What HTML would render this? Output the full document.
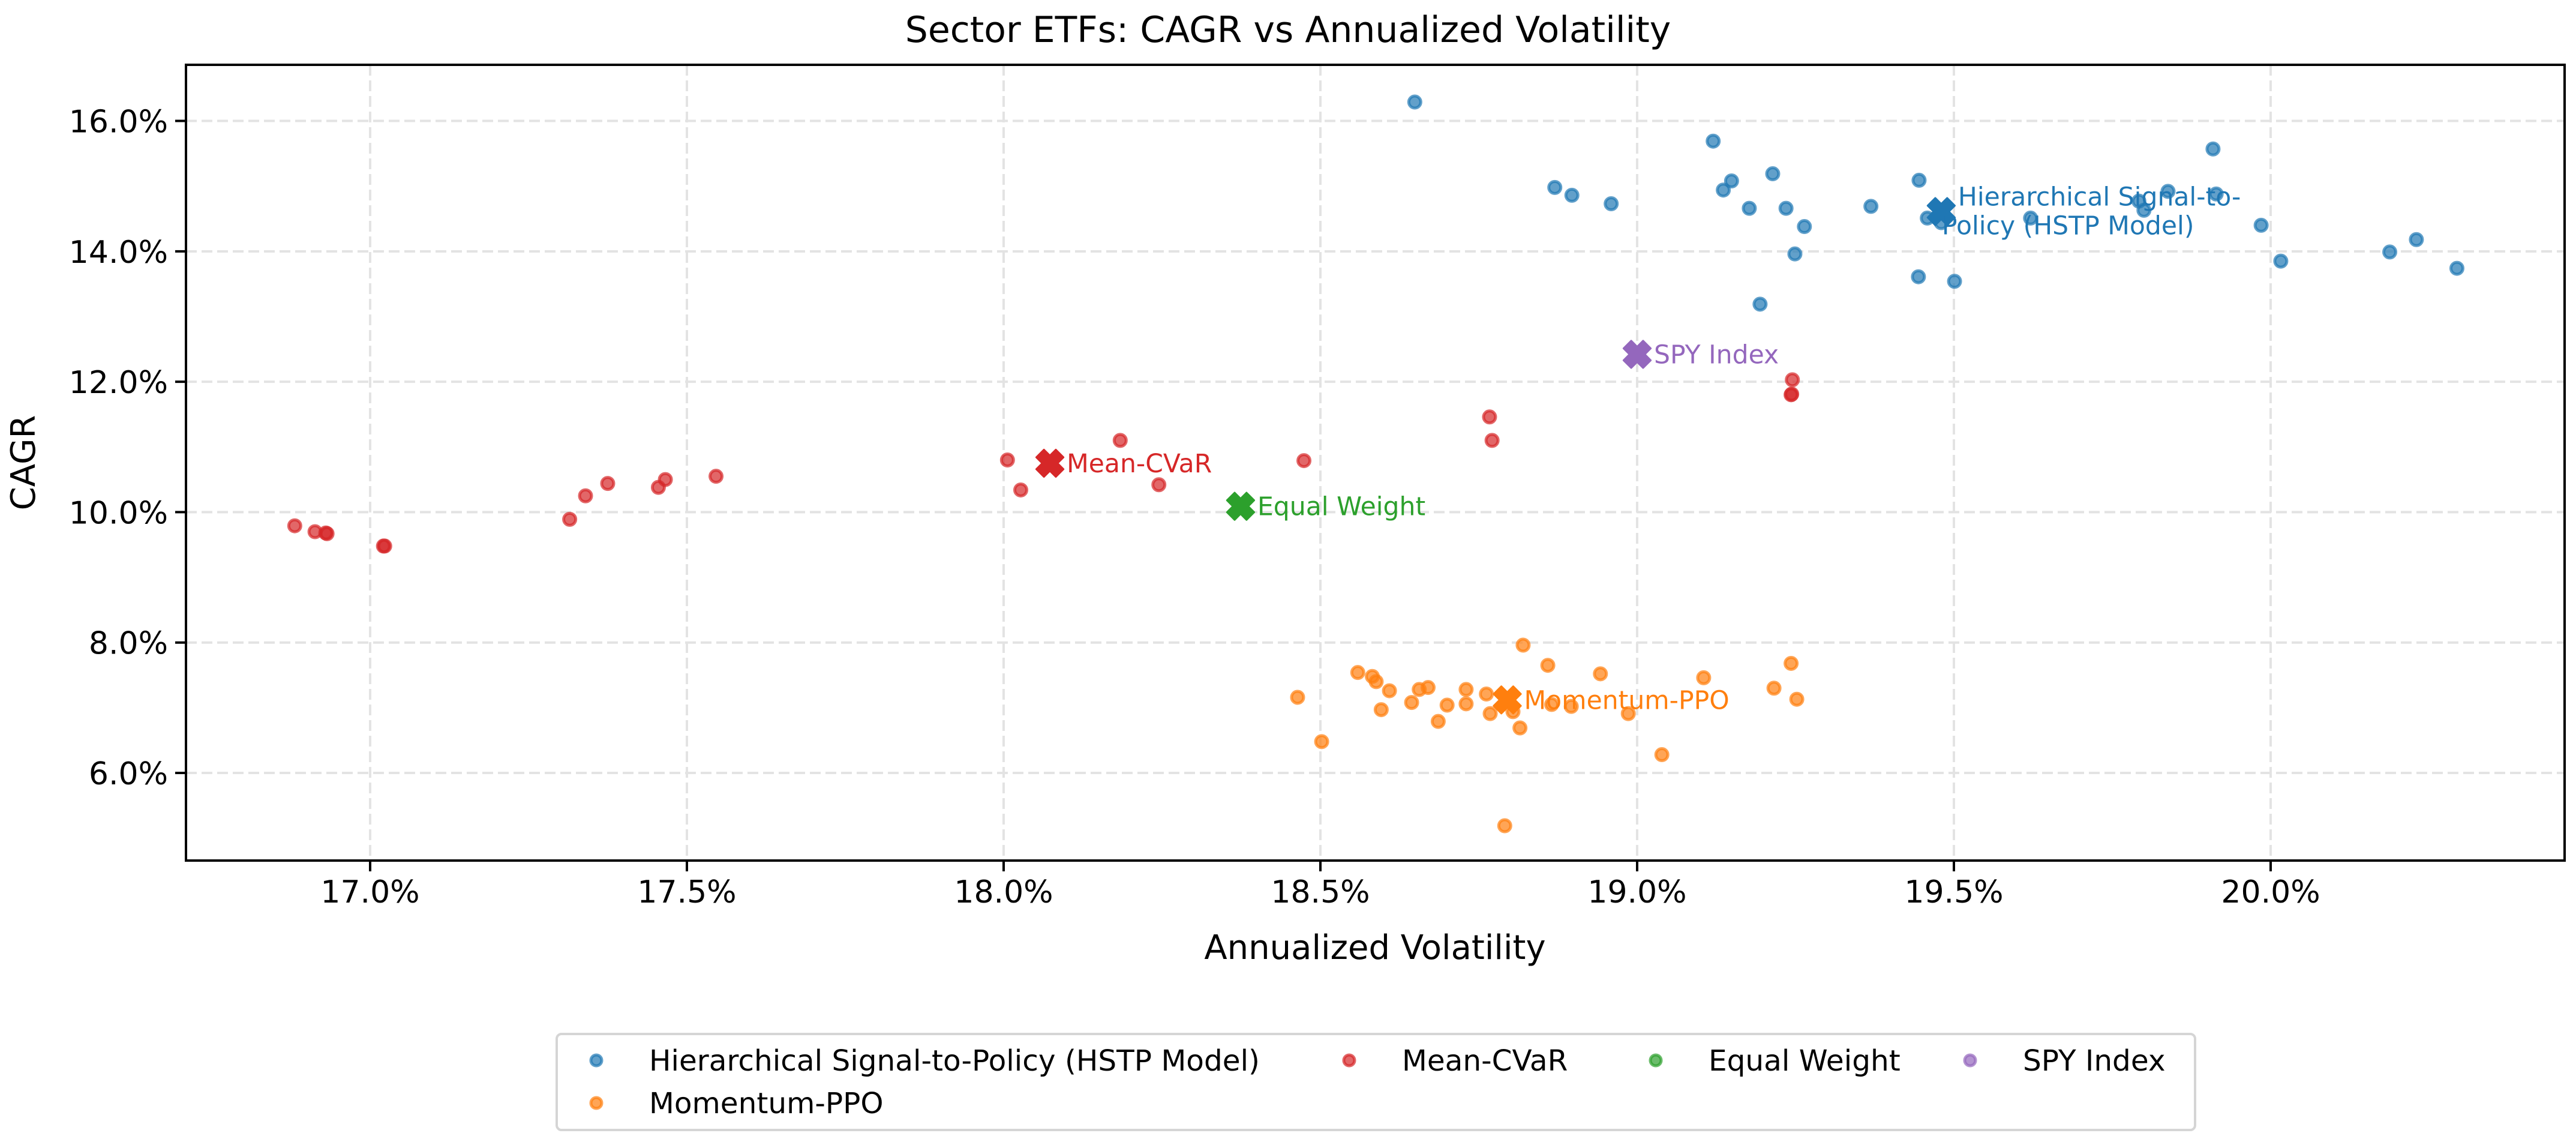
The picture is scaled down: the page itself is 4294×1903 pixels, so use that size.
<!DOCTYPE html>
<html><head><meta charset="utf-8"><style>
html,body{margin:0;padding:0;background:#fff;}
svg{display:block;font-family:"DejaVu Sans","Liberation Sans",sans-serif;}
</style></head><body>
<svg id="chart" width="4294" height="1903" viewBox="0 0 4294 1903" xmlns="http://www.w3.org/2000/svg">
<rect x="0" y="0" width="4294" height="1903" fill="#fff"/>
<text x="2147" y="70" font-size="60" text-anchor="middle" fill="#000">Sector ETFs: CAGR vs Annualized Volatility</text>
<g id="grid"></g>
<g id="points"></g>
<g id="axes"></g>
<text x="2292" y="1598" font-size="56" text-anchor="middle" fill="#000">Annualized Volatility</text>
<text x="0" y="0" font-size="56" text-anchor="middle" fill="#000" transform="translate(58,771) rotate(-90)">CAGR</text>
<g id="legend">
<rect x="928" y="1723" width="2731" height="160" rx="8" fill="#fff" stroke="#d5d5d5" stroke-width="4"/>
</g>
</svg>
<script>
const xTicks=[17.0,17.5,18.0,18.5,19.0,19.5,20.0];
const yTicks=[6,8,10,12,14,16];
const hstpX=[18.649,19.120,18.870,18.897,18.959,19.149,19.136,19.214,19.177,19.235,19.264,19.249,19.194,19.369,19.445,19.458,19.444,19.501,19.480,19.909,19.838,19.914,19.792,19.800,19.621,19.985,20.016,20.188,20.230,20.294];
const hstpY=[16.29,15.69,14.98,14.86,14.73,15.08,14.94,15.19,14.66,14.66,14.38,13.96,13.19,14.69,15.09,14.51,13.61,13.54,14.44,15.57,14.92,14.88,14.77,14.63,14.51,14.40,13.85,13.99,14.18,13.74];
const cvarX=[16.881,16.913,16.930,16.932,17.021,17.023,17.315,17.340,17.375,17.455,17.466,17.546,18.006,18.184,18.027,18.245,18.474,18.767,18.771,19.245,19.243,19.244];
const cvarY=[9.79,9.70,9.68,9.67,9.48,9.48,9.89,10.25,10.44,10.38,10.50,10.55,10.80,11.10,10.34,10.42,10.79,11.46,11.10,12.03,11.80,11.81];
const ppoX=[18.820,18.859,19.243,18.942,19.105,18.559,18.582,18.588,18.609,18.656,18.670,18.730,18.762,19.216,19.252,18.464,18.644,18.700,18.730,18.596,18.768,18.804,18.865,18.896,18.986,18.686,18.815,18.502,19.039,18.791];
const ppoY=[7.96,7.65,7.68,7.52,7.46,7.54,7.48,7.40,7.26,7.28,7.31,7.28,7.21,7.30,7.13,7.16,7.08,7.04,7.06,6.97,6.91,6.94,7.05,7.02,6.91,6.79,6.69,6.48,6.28,5.19];
const meanNames=["Hierarchical Signal-to-Policy (HSTP Model)","Mean-CVaR","Equal Weight","SPY Index","Momentum-PPO"];
const meanX=[19.480,18.073,18.374,19.000,18.795];
const meanY=[14.61,10.75,10.09,12.42,7.12];

const L=310,R=4275,T=108,B=1434;
const xMin=16.7093,xMax=20.4640,yMin=4.656,yMax=16.861;
function sx(v){return L+(v-xMin)/(xMax-xMin)*(R-L);}
function sy(v){return B-(v-yMin)/(yMax-yMin)*(B-T);}
const NS="http://www.w3.org/2000/svg";
function mk(tag,attrs,parent){const e=document.createElementNS(NS,tag);for(const k in attrs)e.setAttribute(k,attrs[k]);parent.appendChild(e);return e;}
const grid=document.getElementById('grid'),pts=document.getElementById('points'),axes=document.getElementById('axes'),leg=document.getElementById('legend');

xTicks.forEach(v=>{
  const g=mk('line',{x1:sx(v),x2:sx(v),y1:T,y2:B,stroke:'#e3e3e3','stroke-width':4,'stroke-dasharray':'18 8'},grid);
  
  
  const t=mk('line',{x1:sx(v),x2:sx(v),y1:B,y2:B+18,stroke:'#000','stroke-width':4},axes);
  
  
  const l=mk('text',{x:sx(v),y:B+70,'font-size':52,'text-anchor':'middle',fill:'#000'},axes);
  l.textContent=v.toFixed(1)+'%';
  
  
});
yTicks.forEach(v=>{
  const g=mk('line',{x1:L,x2:R,y1:sy(v),y2:sy(v),stroke:'#e3e3e3','stroke-width':4,'stroke-dasharray':'18 8'},grid);
  
  
  const t=mk('line',{x1:L-18,x2:L,y1:sy(v),y2:sy(v),stroke:'#000','stroke-width':4},axes);
  
  
  const l=mk('text',{x:L-30,y:sy(v)+19,'font-size':52,'text-anchor':'end',fill:'#000'},axes);
  l.textContent=v.toFixed(1)+'%';
  
  
});
const frame=mk('rect',{x:L,y:T,width:R-L,height:B-T,fill:'none',stroke:'#000','stroke-width':4},axes);



const colors=['#1f77b4','#d62728','#2ca02c','#9467bd','#ff7f0e'];
function scatter(xs,ys,c,name){
  xs.forEach((x,i)=>{
    const p=mk('circle',{cx:sx(x),cy:sy(ys[i]),r:10,fill:c,'fill-opacity':0.7,stroke:c,'stroke-opacity':0.7,'stroke-width':5},pts);
    
    
  });
}
scatter(hstpX,hstpY,colors[0],'hstp-point');
scatter(cvarX,cvarY,colors[1],'mean-cvar-point');
scatter(ppoX,ppoY,colors[4],'momentum-ppo-point');

function xMarker(cx,cy,c){
  const a=23,w=9;
  const d=`M${-w},${-a}L${w},${-a}L${w},${-w}L${a},${-w}L${a},${w}L${w},${w}L${w},${a}L${-w},${a}L${-w},${w}L${-a},${w}L${-a},${-w}L${-w},${-w}Z`;
  return mk('path',{d:d,fill:c,transform:`translate(${cx},${cy}) rotate(45)`,'stroke':c,'stroke-width':3,'stroke-linejoin':'round'},pts);
}
meanX.forEach((x,i)=>{
  const cx=sx(x),cy=sy(meanY[i]);
  const m=xMarker(cx,cy,colors[i]);
  
  
  const t=mk('text',{x:cx+28,y:cy+15,'font-size':42.5,fill:colors[i]},pts);
  
  
  if(i===0){
    const a=mk('tspan',{x:cx+28,y:cy-10},t);a.textContent='Hierarchical Signal-to-';
    const b=mk('tspan',{x:cx+1,y:cy+38},t);b.textContent='Policy (HSTP Model)';
  } else t.textContent=meanNames[i];
});

const legItems=[[994,1767,0],[2249,1767,1],[2760,1767,2],[3284,1767,3],[994,1838,4]];
legItems.forEach(([x,y,i])=>{
  const c=mk('circle',{cx:x,cy:y,r:9,fill:colors[i],'fill-opacity':0.7,stroke:colors[i],'stroke-opacity':0.7,'stroke-width':5},leg);
  
  
  const t=mk('text',{x:x+88,y:y+17,'font-size':48.5,fill:'#000'},leg);
  t.textContent=meanNames[i];
  
  
});
</script>
</body></html>
